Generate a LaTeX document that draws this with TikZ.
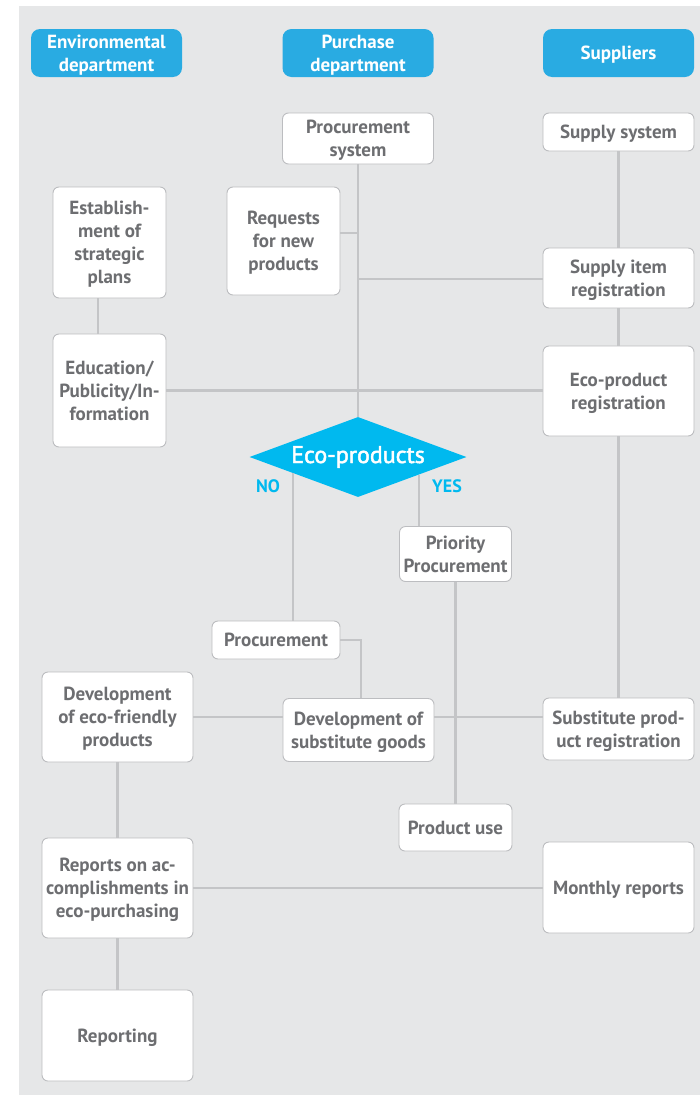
\documentclass[tikz,border=0pt]{standalone}
\usepackage{fontspec}
\setmainfont{PT Sans}
\newfontfamily\ecofont[FakeBold=2]{PT Sans}
\usepackage{tikz}
\usetikzlibrary{shapes.geometric}
\usetikzlibrary{positioning}
\definecolor{bggrey}{HTML}{E6E7E8}
\definecolor{deptblue}{HTML}{29ABE2}
\definecolor{ecocyan}{HTML}{00B9EF}
\definecolor{textgrey}{HTML}{6D6E71}
\definecolor{linegrey}{HTML}{C4C5C7}
\definecolor{framegrey}{HTML}{BCBDC0}
\tikzstyle{dept} = [rectangle, rounded corners=9pt,
minimum width=151pt,
minimum height=48pt,
inner sep=0pt, align=center, text depth=-5pt,
fill=deptblue, text=white,
font=\fontsize{19}{23}\selectfont\bfseries]
\tikzstyle{task} = [rectangle, rounded corners=6pt,
inner sep=0pt, align=center, text depth=-5pt,
draw=framegrey, line width=0.9pt,
fill=white, text=textgrey,
font=\fontsize{19}{23}\selectfont\bfseries]
\tikzstyle{wide} = [task, minimum width=151pt]
\tikzstyle{narrow} = [task, minimum width=113pt]
\tikzstyle{decision} = [diamond, aspect=2.7,
minimum width=217pt,
minimum height=80pt,
inner sep=0pt,
fill=ecocyan, text=white,
font=\fontsize{24}{28}\ecofont]
\tikzstyle{answer} = [text=ecocyan, font=\fontsize{18}{21}\selectfont\bfseries]
\tikzstyle{link} = [draw=linegrey, line width=2.6pt]
\begin{document}
\begin{tikzpicture}[x=1pt, y=-1pt]

        \useasboundingbox (0,0) rectangle (700,1095);
        \fill [bggrey] (19,6) rectangle (700,1095);

        % column heads
        \node (envhd) [dept] at (106.5,53) {Environmental\\department};
        \node (purhd) [dept] at (358,53) {Purchase\\department};
        \node (suphd) [dept] at (618.5,53) {Suppliers};

        \node (procsys) [wide, minimum height=51pt] at (358,138.5)
        {Procurement\\system};
        \node (supsys) [wide, minimum height=38pt] at (618.5,132)
        {Supply system};
        \node (strat) [narrow, minimum height=111pt] at (109.5,242.5)
        {Establish-\\ment of\\strategic\\plans};
        \node (requests) [narrow, minimum height=108pt] at (283.5,241)
        {Requests\\for new\\products};
        \node (supitem) [wide, minimum height=60pt] at (618.5,278)
        {Supply item\\registration};
        \node (edu) [narrow, minimum height=113pt] at (109.5,390.5)
        {Education/\\Publicity/In-\\formation};
        \node (ecoreg) [wide, minimum height=90pt] at (618.5,391)
        {Eco-product\\registration};

        \node (eco) [decision] at (358,457) {Eco-products};
        \node (no) [answer] at (268,486) {NO};
        \node (yes) [answer] at (447,486) {YES};

        \node (prio) [narrow, minimum width=112pt, minimum height=55pt] at (455.5,554)
        {Priority\\Procurement};
        \node (procure) [task, minimum width=128pt, minimum height=38pt] at (276,640)
        {Procurement};
        \node (devfriendly) [wide, minimum height=90pt] at (117.5,717)
        {Development\\of eco-friendly\\products};
        \node (devsub) [wide, minimum height=63pt] at (358.5,730)
        {Development of\\substitute goods};
        \node (subreg) [wide, minimum height=62pt] at (618.5,729)
        {Substitute prod-\\uct registration};
        \node (use) [narrow, minimum height=47pt] at (455.5,827.5)
        {Product use};
        \node (reports) [wide, minimum height=100pt] at (117.5,888)
        {Reports on ac-\\complishments in\\eco-purchasing};
        \node (monthly) [wide, minimum height=91pt] at (618.5,887.5)
        {Monthly reports};
        \node (reporting) [wide, minimum height=91pt] at (117.5,1035.5)
        {Reporting};

        % junctions
        \coordinate (reqjoin) at (358,233);
        \coordinate (supjoin) at (358,279);
        \coordinate (planjoin) at (98,300);
        \coordinate (nojoin) at (293,473);
        \coordinate (yesjoin) at (419,475);

        \draw [link] (procsys) -- (eco);
        \draw [link] (reqjoin -| requests.east) -- (reqjoin);
        \draw [link] (supjoin) -- (supjoin -| supitem.west);
        \draw [link] (supsys) -- (supitem);
        \draw [link] (supitem) -- (ecoreg);
        \draw [link] (planjoin |- strat.south) -- (planjoin |- edu.north);
        \draw [link] (edu.east) -- (edu.east -| ecoreg.west);
        \draw [link] (ecoreg) -- (subreg);

        \draw [link] (nojoin) -- (nojoin |- procure.north);
        \draw [link] (yesjoin) -- (yesjoin |- prio.north);
        \draw [link] (procure.east) -| ([xshift=2.5pt]devsub.north);
        \draw [link] (devfriendly.east) -- (devfriendly.east -| devsub.west);
        \draw [link] (devfriendly.east -| devsub.east) -- (devfriendly.east -| subreg.west);
        \draw [link] (prio) -- (use);

        \draw [link] (devfriendly) -- (reports);
        \draw [link] (reports.east) -- (reports.east -| monthly.west);
        \draw [link] (reports) -- (reporting);

\end{tikzpicture}
\end{document}
